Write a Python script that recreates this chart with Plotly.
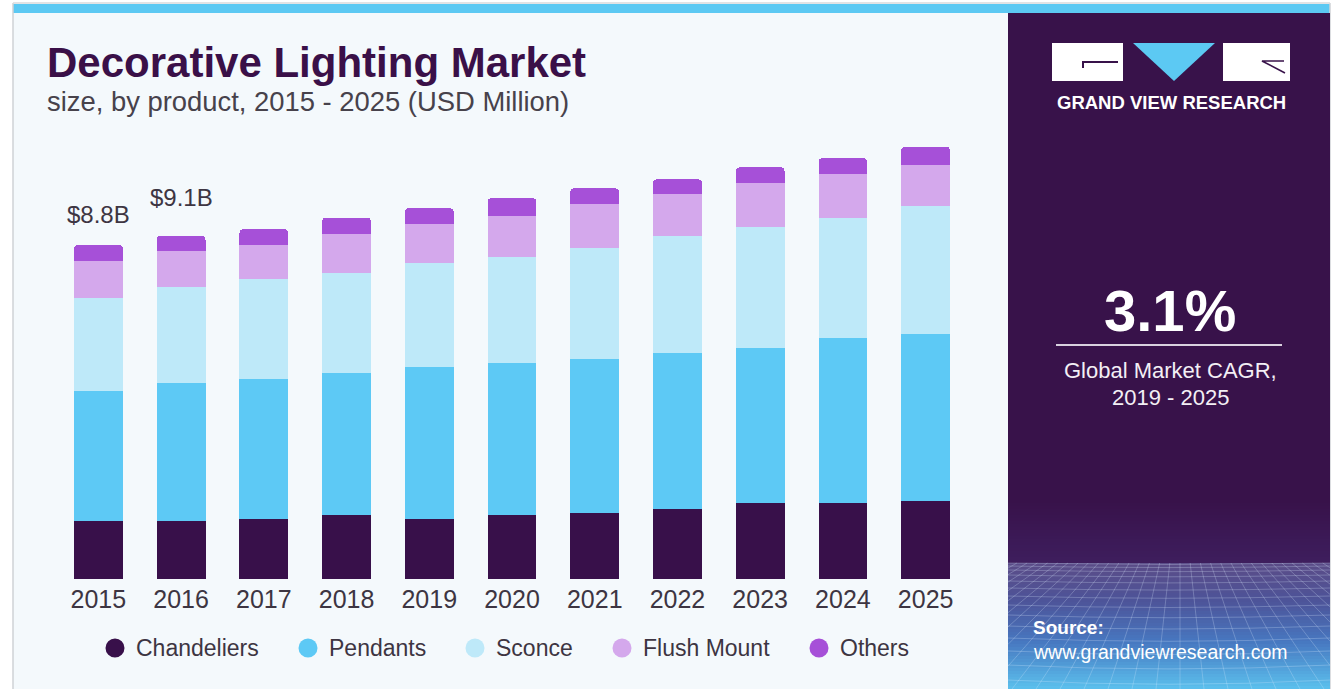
import plotly.graph_objects as go

# ---- data (USD Million) ----
years = ["2015", "2016", "2017", "2018", "2019", "2020", "2021", "2022", "2023", "2024", "2025"]
chandeliers = [1523, 1523, 1592, 1690, 1592, 1690, 1734, 1840, 1998, 1998, 2067]
pendants = [3440, 3650, 3688, 3741, 3997, 4021, 4066, 4118, 4092, 4356, 4401]
sconce = [2447, 2540, 2632, 2640, 2746, 2783, 2946, 3105, 3194, 3184, 3379]
flush_mount = [985, 940, 906, 1038, 1038, 1090, 1154, 1093, 1177, 1154, 1082]
others = [422, 407, 414, 430, 414, 467, 414, 396, 407, 414, 483]

series_names = ["Chandeliers", "Pendants", "Sconce", "Flush Mount", "Others"]
series_values = [chandeliers, pendants, sconce, flush_mount, others]
series_colors = ["#38104a", "#5dc9f5", "#bee9f9", "#d4a8ec", "#a650d8"]

total_labels = {"2015": "$8.8B", "2016": "$9.1B"}

# ---- canvas geometry ----
W, H = 1337, 689
ML, MR, MT, MB = 57, 370, 130, 110
PW, PH = W - ML - MR, H - MT - MB
Y_MAX = PH * 26.4

FONT = "Liberation Sans, Arial, sans-serif"
DARK = "#38124a"
TEXT = "#3d3542"


def px(x):
    return (x - ML) / PW


def py(y):
    return (H - MB - y) / PH


def lerp_hex(c1, c2, t):
    a = [int(c1[i:i + 2], 16) for i in (1, 3, 5)]
    b = [int(c2[i:i + 2], 16) for i in (1, 3, 5)]
    return "#" + "".join(f"{round(a[i] + (b[i] - a[i]) * t):02x}" for i in range(3))


fig = go.Figure()
for name, vals, col in zip(series_names, series_values, series_colors):
    fig.add_trace(go.Bar(
        x=years, y=vals, name=name,
        marker=dict(color=col, line=dict(width=0)),
        hoverinfo="x+y+name",
    ))

shapes = []
annotations = []


def rect(x0, y0, x1, y1, color, layer="below"):
    shapes.append(dict(type="rect", xref="paper", yref="paper",
                       x0=px(x0), x1=px(x1), y0=py(y1), y1=py(y0),
                       fillcolor=color, line=dict(width=0), layer=layer))


def line(x0, y0, x1, y1, color, width=1, layer="below"):
    shapes.append(dict(type="line", xref="paper", yref="paper",
                       x0=px(x0), x1=px(x1), y0=py(y0), y1=py(y1),
                       line=dict(color=color, width=width), layer=layer))


def text(x, y, s, size, color, xanchor="left", bold=False):
    annotations.append(dict(xref="paper", yref="paper", x=px(x), y=py(y),
                            text=f"<b>{s}</b>" if bold else s, showarrow=False,
                            xanchor=xanchor, yanchor="middle",
                            font=dict(family=FONT, size=size, color=color)))


# card background, top stripe and outline
rect(13, 4, 1330, H, "#f4f9fc")
rect(13, 4, 1330, 13, "#5cc9f3")
line(13, 3, 13, H, "#cfd2d6", 1.5)
line(1330, 3, 1330, H, "#cfd2d6", 1.5)
line(13, 3, 1330, 3, "#d8dadd", 1.5)

# right-hand info panel
PX0, PX1 = 1008, 1330
rect(PX0, 13, PX1, H, DARK)
stops = [(500, DARK), (562, "#3e1e5e"), (563, "#5a4c88"), (600, "#4d5499"),
         (640, "#4777c0"), (689, "#5cc3ef")]
step = 3
for yy in range(500, H, step):
    for (ya, ca), (yb, cb) in zip(stops, stops[1:]):
        if ya <= yy < yb:
            col = lerp_hex(ca, cb, (yy - ya) / (yb - ya))
            break
    rect(PX0, yy, PX1, min(yy + step + 0.6, H), col)

# perspective mesh over the lower panel
GY0, GY1 = 563, H
grid_col = "rgba(220,235,255,0.26)"
rows = [563, 566, 570, 575, 581, 588, 596, 605, 615, 626, 638, 651, 665, 680]
for r in rows:
    t = (r - GY0) / (GY1 - GY0)
    sag = 3 + 6 * t
    path = (f"M{px(PX0)},{py(r)} Q{px((PX0 + PX1) / 2)},{py(r + sag)} {px(PX1)},{py(r)}")
    shapes.append(dict(type="path", xref="paper", yref="paper", path=path,
                       line=dict(color=grid_col, width=1), layer="below"))
vx, vy = 1180, 470
for bx in range(700, 1700, 24):
    # segment from horizon row to bottom edge, clipped to the panel
    def at(y):
        return vx + (bx - vx) * (y - vy) / (GY1 - vy)
    xa, xb = at(GY0), at(GY1)
    ya, yb = GY0, GY1
    if max(xa, xb) < PX0 or min(xa, xb) > PX1:
        continue
    pts = []
    for (xx, yy) in ((xa, ya), (xb, yb)):
        if xx < PX0 or xx > PX1:
            edge = PX0 if xx < PX0 else PX1
            yy = vy + (edge - vx) * (GY1 - vy) / (bx - vx) if bx != vx else yy
            xx = edge
        pts.append((xx, yy))
    line(pts[0][0], pts[0][1], pts[1][0], pts[1][1], grid_col, 1)

# logo blocks
rect(1052, 43, 1123, 81, "#ffffff")
rect(1223, 43, 1290, 81, "#ffffff")
shapes.append(dict(type="path", xref="paper", yref="paper",
                   path=f"M{px(1133)},{py(43)} L{px(1215)},{py(43)} L{px(1174)},{py(81)} Z",
                   fillcolor="#5cc9f3", line=dict(width=0), layer="below"))
shapes.append(dict(type="path", xref="paper", yref="paper",
                   path=f"M{px(1083)},{py(68)} L{px(1083)},{py(62)} L{px(1118)},{py(62)}",
                   line=dict(color=DARK, width=2), layer="below"))
shapes.append(dict(type="path", xref="paper", yref="paper",
                   path=f"M{px(1284)},{py(61)} L{px(1262)},{py(61)} L{px(1285)},{py(73)}",
                   line=dict(color=DARK, width=1.6), layer="below"))
text(1171, 103, "GRAND VIEW RESEARCH", 18.5, "#ffffff", "center", bold=True)

# CAGR callout
text(1170, 310, "3.1%", 58, "#ffffff", "center", bold=True)
line(1056, 345, 1282, 345, "#d9d1df", 2)
text(1170, 370, "Global Market CAGR,", 22, "#f3eff5", "center")
text(1170, 397, "2019 - 2025", 22, "#f3eff5", "center")

# source
text(1031, 627, "Source:", 19, "#ffffff", bold=True)
text(1031, 652, "www.grandviewresearch.com", 19.5, "#ffffff")

# titles
text(45, 62, "Decorative Lighting Market", 42, "#3a1048", bold=True)
text(45, 101, "size, by product, 2015 - 2025 (USD Million)", 27.4, "#47424b")

# legend
legend_circle_x = [115, 308, 475, 622, 819]
for name, col, cx in zip(series_names, series_colors, legend_circle_x):
    shapes.append(dict(type="circle", xref="paper", yref="paper",
                       x0=px(cx - 9.5), x1=px(cx + 9.5), y0=py(657.5), y1=py(638.5),
                       fillcolor=col, line=dict(width=0), layer="above"))
    text(cx + 19, 648, name, 23, TEXT)

# total labels above first bars (category index used as x position)
totals = [sum(v) for v in zip(*series_values)]
label_shift = {"2015": 31, "2016": 38}
for yr, lab in total_labels.items():
    i = years.index(yr)
    annotations.append(dict(x=i, y=totals[i], xref="x", yref="y", text=lab,
                            showarrow=False, xanchor="center", yanchor="middle",
                            yshift=label_shift[yr],
                            font=dict(family=FONT, size=24, color=TEXT)))

fig.update_layout(
    width=W, height=H,
    margin=dict(l=ML, r=MR, t=MT, b=MB, pad=0),
    autosize=False,
    barmode="stack", bargap=0.41, barcornerradius=4,
    paper_bgcolor="#ffffff", plot_bgcolor="rgba(0,0,0,0)",
    showlegend=False,
    shapes=shapes, annotations=annotations,
    xaxis=dict(type="category", range=[-0.5, 10.5], showgrid=False, zeroline=False,
               showline=False, ticks="", ticklabelstandoff=3,
               tickfont=dict(family=FONT, size=25, color=TEXT)),
    yaxis=dict(range=[0, Y_MAX], visible=False, showgrid=False, zeroline=False),
)

fig.write_html("out.html")
